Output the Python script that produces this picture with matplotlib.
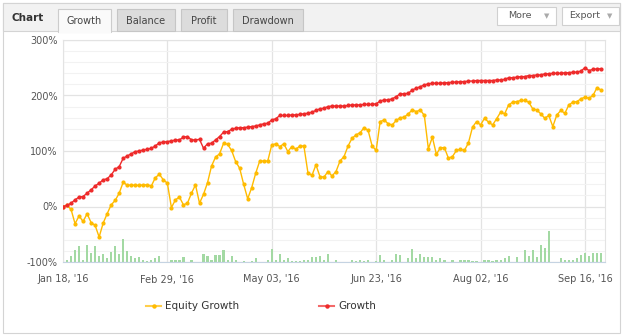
import numpy as np
import matplotlib.pyplot as plt
from matplotlib.patches import Rectangle
from matplotlib.lines import Line2D

# ---- data (one value per trading point) ----
x_labels = ["Jan 18, '16", "Feb 29, '16", "May 03, '16",
            "Jun 23, '16", "Aug 02, '16", "Sep 16, '16"]
label_step = 26

equity = [0, 2, -5, -31, -17, -27, -13, -29, -34, -55,
          -30, -13, 3, 11, 24, 44, 38, 39, 38, 38,
          39, 39, 37, 52, 58, 48, 42, -2, 12, 17,
          3, 6, 24, 39, 6, 22, 43, 73, 89, 95,
          114, 112, 101, 81, 69, 40, 14, 34, 60, 82,
          82, 82, 111, 113, 108, 113, 99, 108, 103, 109,
          109, 61, 56, 75, 54, 53, 63, 55, 63, 82,
          90, 109, 123, 129, 133, 142, 137, 109, 101, 153,
          156, 149, 147, 155, 160, 161, 167, 174, 171, 174,
          164, 104, 125, 94, 106, 106, 87, 90, 101, 103,
          101, 115, 143, 153, 147, 159, 152, 147, 158, 170,
          167, 183, 188, 189, 191, 191, 188, 176, 174, 167,
          159, 164, 144, 165, 173, 168, 183, 188, 189, 194,
          197, 195, 200, 214, 210]

growth = [0, 2, 6, 12, 17, 18, 24, 30, 37, 42,
          48, 50, 57, 67, 72, 87, 91, 95, 99, 100,
          102, 103, 105, 109, 115, 116, 117, 118, 120, 120,
          125, 126, 120, 120, 121, 105, 113, 114, 120, 126,
          134, 135, 139, 141, 142, 142, 143, 144, 145, 147,
          149, 150, 156, 158, 164, 164, 164, 165, 165, 166,
          167, 168, 170, 173, 176, 177, 180, 181, 181, 181,
          181, 182, 183, 183, 183, 184, 184, 184, 185, 190,
          192, 192, 194, 198, 203, 203, 204, 210, 213, 216,
          219, 221, 222, 222, 222, 223, 223, 224, 224, 225,
          225, 226, 226, 227, 227, 227, 227, 227, 228, 228,
          229, 232, 232, 233, 234, 234, 236, 236, 237, 237,
          239, 239, 240, 240, 240, 241, 241, 242, 242, 244,
          250, 245, 247, 248, 248]

volume = [0, 4, 11, 22, 28, 3, 31, 16, 28, 11,
          15, 8, 18, 28, 14, 41, 19, 11, 8, 9,
          3, 1, 4, 8, 11, 0, 0, 3, 3, 3,
          9, 0, 3, 0, 0, 14, 11, 3, 12, 13,
          22, 4, 11, 4, 0, 2, 0, 2, 7, 0,
          0, 4, 23, 3, 15, 3, 7, 1, 1, 2,
          3, 4, 9, 9, 11, 3, 15, 0, 4, 0,
          0, 0, 4, 1, 4, 2, 4, 0, 2, 13,
          4, 0, 4, 14, 13, 0, 8, 24, 8, 15,
          9, 9, 9, 4, 8, 3, 0, 3, 0, 3,
          4, 4, 2, 2, 0, 3, 3, 2, 3, 4,
          8, 11, 0, 9, 0, 22, 10, 22, 9, 30,
          26, 55, 0, 0, 7, 4, 3, 3, 8, 13,
          16, 10, 16, 16, 16]

tabs = ['Growth', 'Balance', 'Profit', 'Drawdown']

YELLOW = '#ffbb00'
RED = '#ee2a2a'
GREEN = '#a3d9a3'

W, H = 625, 336
fig = plt.figure(figsize=(W / 100, H / 100), dpi=100)
fig.patch.set_facecolor('white')


def box(x0, y0, x1, y1, **kw):
    # rectangle given in pixel coords (origin top-left)
    r = Rectangle((x0 / W, 1 - y1 / H), (x1 - x0) / W, (y1 - y0) / H,
                  transform=fig.transFigure, **kw)
    fig.add_artist(r)


def text(x, y, s, **kw):
    fig.text(x / W, 1 - y / H, s, **kw)


# ---- frame and tab bar ----
box(3, 3, 620, 333, facecolor='white', edgecolor='#d4d4d4', lw=0.8, zorder=-3)
box(3, 3, 620, 31, facecolor='#f2f2f2', edgecolor='#d4d4d4', lw=0.8, zorder=-2)
text(12, 18, 'Chart', fontsize=7.5, fontweight='bold', color='#333333', va='center')

tab_x = [(58, 111), (117, 175), (181, 227), (233, 303)]
for name, (a, b) in zip(tabs, tab_x):
    if name == 'Growth':
        box(a, 9, b, 32, facecolor='#fafafa', edgecolor='#cccccc', lw=0.8, zorder=3)
        box(a + 0.5, 30.5, b - 0.5, 33, facecolor='#fafafa', edgecolor='none', zorder=4)
    else:
        box(a, 9, b, 31, facecolor='#dcdcdc', edgecolor='#c6c6c6', lw=0.8, zorder=3)
    text((a + b) / 2, 21, name, fontsize=7, color='#444444', ha='center', va='center', zorder=5)

for name, (a, b) in zip(['More', 'Export'], [(497, 556), (562, 619)]):
    box(a, 7, b, 25, facecolor='white', edgecolor='#d0d0d0', lw=0.8)
    text(a + 7 if name == 'Export' else a + 11, 16, name, fontsize=6.8,
         color='#555555', va='center')
    text(b - 9, 16, '\u25BC', fontsize=5, color='#aaaaaa', ha='center', va='center')

# ---- main plot ----
ax = fig.add_axes([63 / W, 1 - 262 / H, 542 / W, 222 / H])
ax.patch.set_alpha(0)
x = np.arange(len(growth))

ax.bar(x, volume, bottom=-100, width=0.55, color=GREEN, zorder=2)
ax.plot(x, equity, color=YELLOW, lw=1.0, marker='o', ms=2.0, mec=YELLOW, zorder=3)
ax.plot(x, growth, color=RED, lw=1.0, marker='o', ms=2.0, mec=RED, zorder=4)

ax.set_xlim(0, 135)
ax.set_ylim(-100, 300)
ax.set_yticks([-100, 0, 100, 200, 300])
ax.set_yticklabels(['-100%', '0%', '100%', '200%', '300%'])
ax.set_yticks(np.arange(-100, 301, 20), minor=True)
ticks = np.arange(len(x_labels)) * label_step
ax.set_xticks(ticks)
ax.set_xticklabels(x_labels)

ax.grid(which='major', color='#e3e3e3', lw=0.9, zorder=0)
ax.grid(which='minor', axis='y', color='#f2f2f2', lw=0.8, zorder=0)
ax.set_axisbelow(True)
ax.tick_params(which='both', length=0, labelsize=7, colors='#555555')
ax.tick_params(axis='y', pad=4)
ax.tick_params(axis='x', pad=9)
for side in ['top', 'left', 'right']:
    ax.spines[side].set_color('#e3e3e3')
ax.spines['bottom'].set_color('#c5d3e2')

# ---- legend ----
for (lx, label, col) in [(146, 'Equity Growth', YELLOW), (319, 'Growth', RED)]:
    fig.add_artist(Line2D([lx / W, (lx + 15) / W], [1 - 306 / H, 1 - 306 / H],
                          transform=fig.transFigure, color=col, lw=1.5, alpha=0.7))
    fig.add_artist(Line2D([(lx + 7.5) / W], [1 - 306 / H], transform=fig.transFigure,
                          color=col, marker='o', ms=2.2))
    text(lx + 19, 306, label, fontsize=7.5, color='#333333', va='center')

fig.savefig('out.png', dpi=100)
